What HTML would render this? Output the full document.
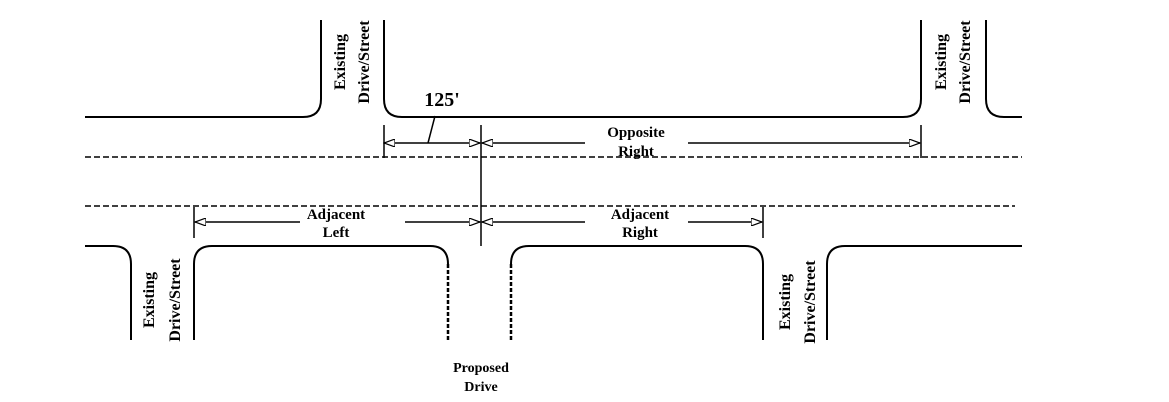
<!DOCTYPE html><html><head><style>body{margin:0;background:#fff}svg{display:block}text{font-family:"Liberation Serif",serif;fill:#000}</style></head><body>
<svg width="1169" height="402" viewBox="0 0 1169 402">
<defs><marker id="a" markerWidth="12" markerHeight="8" refX="11" refY="4" orient="auto" markerUnits="userSpaceOnUse"><path d="M0,0 L11,4 L0,8 Z" fill="#fff" stroke="#000" stroke-width="1.2"/></marker></defs>
<g fill="none" stroke="#000" stroke-width="2">
<path d="M85,117 H303 Q321,117 321,99 V20"/>
<path d="M384,20 V99 Q384,117 402,117 H903 Q921,117 921,99 V20"/>
<path d="M986,20 V99 Q986,117 1004,117 H1022"/>
<path d="M85,246 H113 Q131,246 131,264 V340"/>
<path d="M194,340 V264 Q194,246 212,246 H430 Q448,246 448,264"/>
<path d="M511,264 Q511,246 529,246 H745 Q763,246 763,264 V340"/>
<path d="M827,340 V264 Q827,246 845,246 H1022"/>
</g>
<g stroke="#000" stroke-width="2.5" stroke-dasharray="4,2">
<line x1="448" y1="264" x2="448" y2="340"/><line x1="511" y1="264" x2="511" y2="340"/>
</g>
<g stroke="#000" stroke-width="1.5" stroke-dasharray="6,3">
<line x1="85" y1="157" x2="1022" y2="157"/><line x1="85" y1="206" x2="1015" y2="206"/>
</g>
<g stroke="#000" stroke-width="1.5" fill="none">
<line x1="384" y1="125" x2="384" y2="158"/><line x1="481" y1="125" x2="481" y2="246"/><line x1="921" y1="125" x2="921" y2="158"/>
<line x1="194" y1="207" x2="194" y2="238"/><line x1="763" y1="207" x2="763" y2="238"/>
<line x1="435" y1="143" x2="384" y2="143" marker-end="url(#a)"/><line x1="435" y1="143" x2="480" y2="143" marker-end="url(#a)"/>
<line x1="585" y1="143" x2="482" y2="143" marker-end="url(#a)"/><line x1="688" y1="143" x2="920" y2="143" marker-end="url(#a)"/>
<line x1="300" y1="222" x2="195" y2="222" marker-end="url(#a)"/><line x1="405" y1="222" x2="480" y2="222" marker-end="url(#a)"/>
<line x1="585" y1="222" x2="482" y2="222" marker-end="url(#a)"/><line x1="688" y1="222" x2="762" y2="222" marker-end="url(#a)"/>
<line x1="435" y1="116" x2="428" y2="143"/>
</g>
<text x="442" y="106" font-size="20" font-weight="bold" text-anchor="middle">125'</text>
<g font-size="15" text-anchor="middle" font-weight="bold">
<text x="636" y="137">Opposite</text><text x="636" y="156">Right</text>
<text x="336" y="219">Adjacent</text><text x="336" y="237">Left</text>
<text x="640" y="219">Adjacent</text><text x="640" y="237">Right</text>
<text x="481" y="372" font-size="14">Proposed</text><text x="481" y="391" font-size="14">Drive</text>
</g>
<g font-size="16" text-anchor="middle" font-weight="bold">
<text transform="translate(345,62) rotate(-90)">Existing</text><text transform="translate(369,62) rotate(-90)">Drive/Street</text>
<text transform="translate(946,62) rotate(-90)">Existing</text><text transform="translate(970,62) rotate(-90)">Drive/Street</text>
<text transform="translate(154,300) rotate(-90)">Existing</text><text transform="translate(180,300) rotate(-90)">Drive/Street</text>
<text transform="translate(790,302) rotate(-90)">Existing</text><text transform="translate(815,302) rotate(-90)">Drive/Street</text>
</g>
</svg></body></html>
